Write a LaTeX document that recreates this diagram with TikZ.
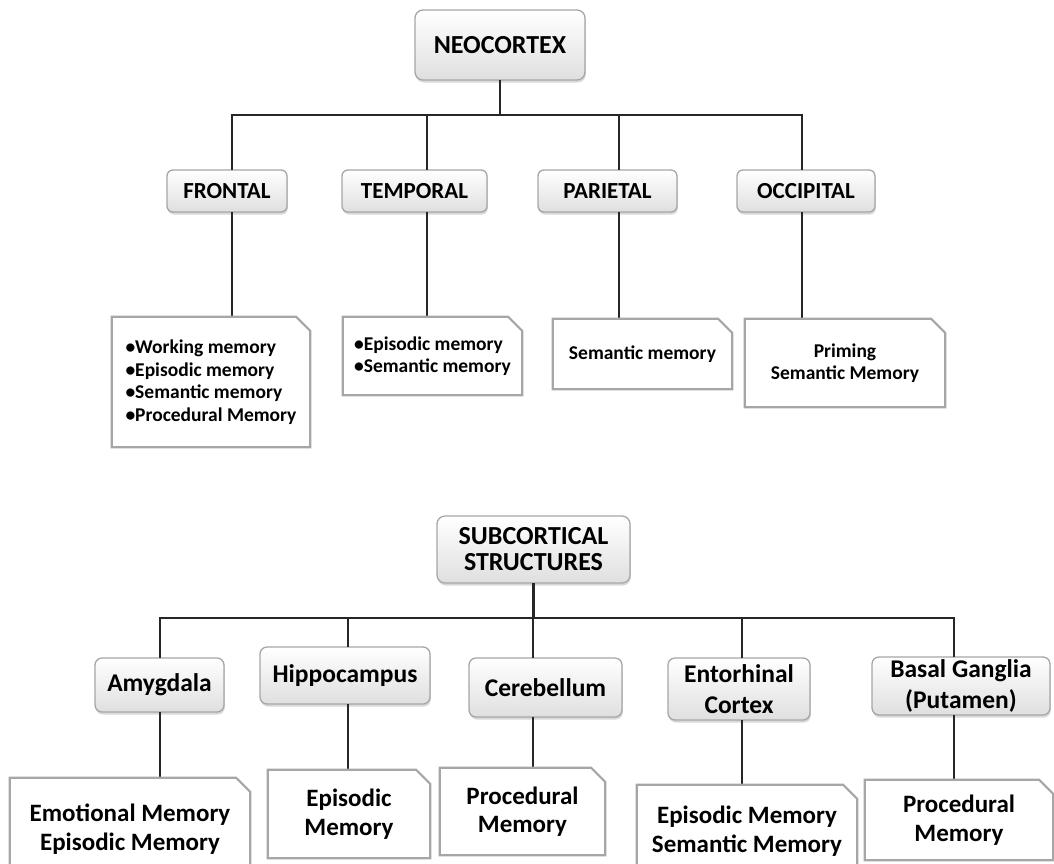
\documentclass[tikz,border=0pt]{standalone}
\usepackage{fontspec}
\setmainfont{Carlito}
\usetikzlibrary{shadows}

\begin{document}
\begin{tikzpicture}[x=1pt,y=-1pt,
  topbox/.style={draw=gray!70, line width=1.3pt, rounded corners=8pt,
    top color=white, bottom color=gray!25,
    drop shadow={shadow xshift=0.8pt, shadow yshift=-2.5pt, fill=gray!60},
    font=\bfseries\fontsize{26}{26}\selectfont, align=center, inner sep=2pt},
  lobebox/.style={topbox, rounded corners=6pt, font=\bfseries\fontsize{23}{24}\selectfont},
  partbox/.style={topbox, rounded corners=7pt, font=\bfseries\fontsize{25.5}{31}\selectfont},
  memo/.style={inner sep=0pt, font=\bfseries\fontsize{19.5}{22.5}\selectfont},
  memo big/.style={memo, align=center, font=\bfseries\fontsize{25}{28.5}\selectfont},
  noteline/.style={draw=gray!70, line width=2.2pt, line join=miter},
  link/.style={line width=2.2pt, black!85, line cap=rect}]
\useasboundingbox (0,0) rectangle (1054,863);
\clip (0,0) rectangle (1054,863);

% neocortex
\node[topbox, minimum width=170pt, minimum height=70pt] (neo) at (500,45) {NEOCORTEX};
\node[lobebox, minimum width=120pt, minimum height=42pt] (frontal) at (227,191) {FRONTAL};
\node[lobebox, minimum width=145pt, minimum height=42pt] (temporal) at (414.5,191) {TEMPORAL};
\node[lobebox, minimum width=139pt, minimum height=42pt] (parietal) at (607.5,191) {PARIETAL};
\node[lobebox, minimum width=138pt, minimum height=42pt] (occipital) at (806,191) {OCCIPITAL};

\node[memo, align=left, minimum width=198pt, minimum height=130pt] (frontal-mem) at (211,382)
  {•Working memory\\•Episodic memory\\•Semantic memory\\•Procedural Memory};
\node[memo, align=left, minimum width=179pt, minimum height=78pt] (temporal-mem) at (432.5,356)
  {•Episodic memory\\•Semantic memory};
\node[memo, minimum width=179pt, minimum height=70pt] (parietal-mem) at (642.5,354) {Semantic memory};
\node[memo, align=center, minimum width=200pt, minimum height=88pt] (occipital-mem) at (845,363)
  {Priming\\Semantic Memory};

\foreach \n/\x in {frontal/232, temporal/427, parietal/619, occipital/802}{
  \coordinate (\n-bus) at (\x,115);
  \draw[link] (\n-bus) -- (\n-bus |- \n.north)
              (\n-bus |- \n.south) -- (\n-bus |- \n-mem.north);
}
\draw[link] (neo.south) -- (neo.south |- frontal-bus);
\draw[link] (frontal-bus) -- (occipital-bus);

% subcortical structures
\node[topbox, minimum width=193pt, minimum height=67pt] (sub) at (533.5,549.5) {SUBCORTICAL\\STRUCTURES};
\node[partbox, minimum width=129pt, minimum height=54pt] (amygdala) at (159.5,685) {Amygdala};
\node[partbox, minimum width=170pt, minimum height=57pt] (hippocampus) at (345,675.5) {Hippocampus};
\node[partbox, minimum width=153pt, minimum height=59pt] (cerebellum) at (545.5,687.5) {Cerebellum};
\node[partbox, minimum width=142pt, minimum height=62pt] (entorhinal) at (739,689) {Entorhinal\\Cortex};
\node[partbox, minimum width=178pt, minimum height=58pt] (basal) at (961,686) {Basal Ganglia\\(Putamen)};

\node[memo big, minimum width=240pt, minimum height=102pt] (amygdala-mem) at (130,829)
  {Emotional Memory\\Episodic Memory};
\node[memo big, minimum width=162pt, minimum height=88pt] (hippocampus-mem) at (349,814) {Episodic\\Memory};
\node[memo big, minimum width=165pt, minimum height=87pt] (cerebellum-mem) at (522.5,811.5) {Procedural\\Memory};
\node[memo big, minimum width=220pt, minimum height=92pt] (entorhinal-mem) at (747,831)
  {Episodic Memory\\Semantic Memory};
\node[memo big, minimum width=188pt, minimum height=80pt] (basal-mem) at (959,820) {Procedural\\Memory};

\foreach \n/\x in {amygdala/160, hippocampus/348, cerebellum/533, entorhinal/742, basal/954}{
  \coordinate (\n-bus) at (\x,618);
  \draw[link] (\n-bus) -- (\n-bus |- \n.north)
              (\n-bus |- \n.south) -- (\n-bus |- \n-mem.north);
}
\draw[link] (sub.south) -- (sub.south |- amygdala-bus);
\draw[link] (amygdala-bus) -- (basal-bus);

% folded note frames
\foreach \n in {frontal,temporal,parietal,occipital,amygdala,hippocampus,cerebellum,entorhinal,basal}
  \draw[noteline] (\n-mem.south west) -- (\n-mem.north west) -- ([xshift=-14pt]\n-mem.north east)
    -- ([yshift=-14pt]\n-mem.north east) -- (\n-mem.south east) -- cycle;
\end{tikzpicture}
\end{document}
